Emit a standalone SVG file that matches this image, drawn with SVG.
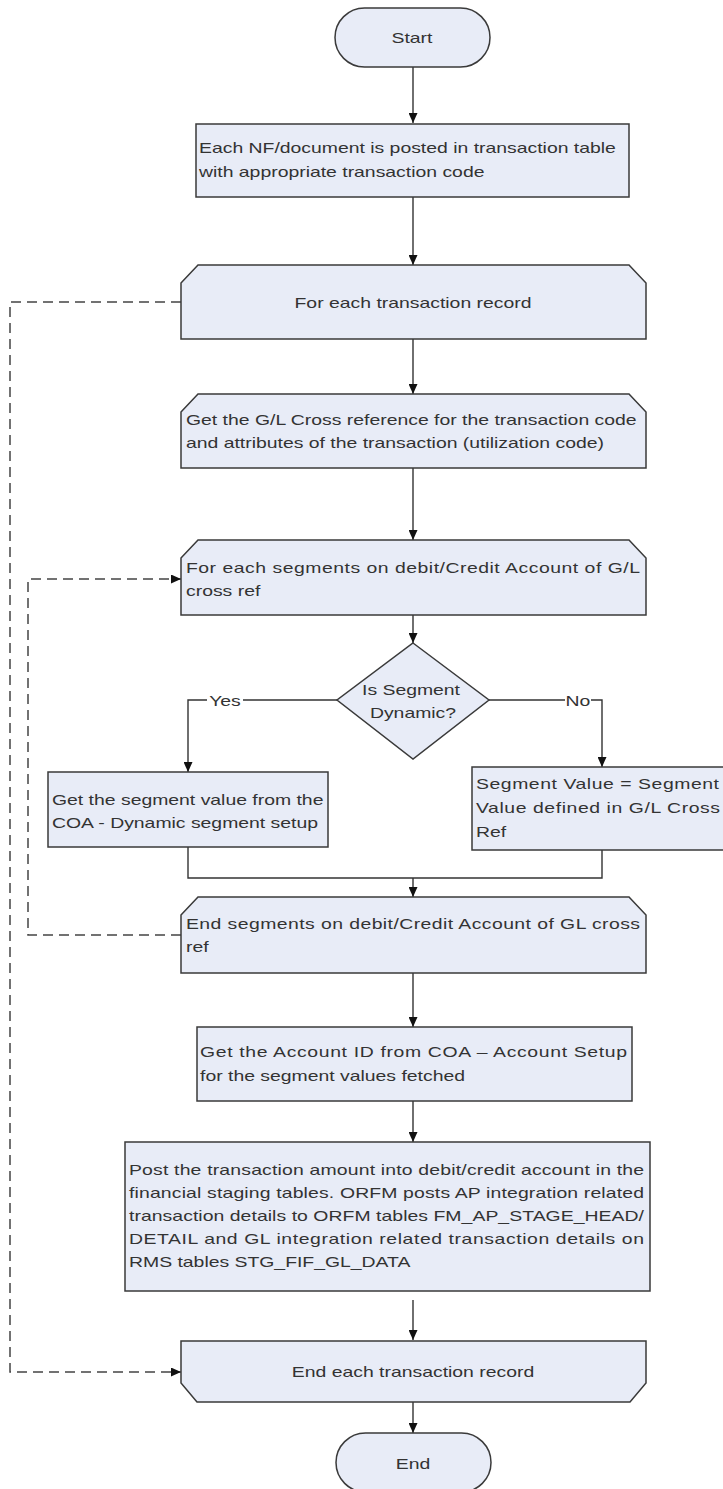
<svg xmlns="http://www.w3.org/2000/svg" width="723" height="1489" viewBox="0 0 723 1489">
<style>
.shape{fill:#e8ecf7;stroke:#3a3a3a;stroke-width:1.5}
.t{font-family:"Liberation Sans",Arial,sans-serif;font-size:19.4px;fill:#333}
.c{text-anchor:middle}
.ln{fill:none;stroke:#333;stroke-width:1.4}
.dash{fill:none;stroke:#444;stroke-width:1.5;stroke-dasharray:10 6}
.lbl{fill:#fff}
</style>
<defs>
<marker id="ah" markerUnits="userSpaceOnUse" markerWidth="10" markerHeight="9" refX="10" refY="4.5" orient="auto">
<path d="M0,0 L10,4.5 L0,9 Z" fill="#111"/>
</marker>
</defs>
<rect width="723" height="1489" fill="#fff"/>

<g id="connectors">
<line class="ln" x1="413" y1="67" x2="413" y2="123" marker-end="url(#ah)"/>
<line class="ln" x1="413" y1="197" x2="413" y2="265" marker-end="url(#ah)"/>
<line class="ln" x1="413" y1="339" x2="413" y2="394" marker-end="url(#ah)"/>
<line class="ln" x1="413" y1="468" x2="413" y2="540" marker-end="url(#ah)"/>
<line class="ln" x1="413" y1="615" x2="413" y2="643" marker-end="url(#ah)"/>
<polyline class="ln" points="337,700 188,700 188,772" marker-end="url(#ah)"/>
<polyline class="ln" points="489,700 602,700 602,767" marker-end="url(#ah)"/>
<polyline class="ln" points="188,847 188,878 602,878 602,850"/>
<line class="ln" x1="413" y1="878" x2="413" y2="897" marker-end="url(#ah)"/>
<line class="ln" x1="413" y1="973" x2="413" y2="1027" marker-end="url(#ah)"/>
<line class="ln" x1="413" y1="1101" x2="413" y2="1142" marker-end="url(#ah)"/>
<line class="ln" x1="413" y1="1300" x2="413" y2="1340" marker-end="url(#ah)"/>
<line class="ln" x1="413" y1="1402" x2="413" y2="1433" marker-end="url(#ah)"/>
<polyline class="dash" points="181,302 10,302 10,1372 181,1372" marker-end="url(#ah)"/>
<polyline class="dash" points="181,935 28,935 28,579 181,579" marker-end="url(#ah)"/>
<rect class="lbl" x="207" y="690" width="36" height="20"/>
<text class="t c" transform="translate(225 706) scale(1 0.8)">Yes</text>
<rect class="lbl" x="565" y="690" width="26" height="20"/>
<text class="t c" transform="translate(578 706) scale(1 0.8)">No</text>
</g>

<g id="start">
<rect class="shape" x="335" y="8" width="155" height="59" rx="29.5"/>
<text class="t c" transform="translate(412 43) scale(1 0.8)">Start</text>
</g>

<g id="post-nf">
<rect class="shape" x="196" y="124" width="433" height="73"/>
<text class="t" transform="translate(199 153) scale(1 0.8)">Each NF/document is posted in transaction table</text>
<text class="t" transform="translate(199 177) scale(1 0.8)">with appropriate transaction code</text>
</g>

<g id="loop-transaction">
<path class="shape" d="M181,283 L198,265 L629,265 L646,283 L646,339 L181,339 Z"/>
<text class="t c" transform="translate(413 308) scale(1 0.8)">For each transaction record</text>
</g>

<g id="get-gl-xref">
<path class="shape" d="M181,412 L198,394 L629,394 L646,412 L646,468 L181,468 Z"/>
<text class="t" transform="translate(186 425) scale(1 0.8)">Get the G/L Cross reference for the transaction code</text>
<text class="t" transform="translate(186 448) scale(1 0.8)">and attributes of the transaction (utilization code)</text>
</g>

<g id="loop-segments">
<path class="shape" d="M181,558 L198,540 L629,540 L646,558 L646,615 L181,615 Z"/>
<text class="t" transform="translate(186 573) scale(1 0.8)" textLength="454" lengthAdjust="spacing">For each segments on debit/Credit Account of G/L</text>
<text class="t" transform="translate(186 596) scale(1 0.8)">cross ref</text>
</g>

<g id="decision">
<path class="shape" d="M413,643 L489,700 L413,759 L337,700 Z"/>
<text class="t c" transform="translate(411 695) scale(1 0.8)">Is Segment</text>
<text class="t c" transform="translate(413 718) scale(1 0.8)">Dynamic?</text>
</g>

<g id="dynamic-segment">
<rect class="shape" x="48" y="772" width="280" height="75"/>
<text class="t" transform="translate(52 805) scale(1 0.8)">Get the segment value from the</text>
<text class="t" transform="translate(52 828) scale(1 0.8)">COA - Dynamic segment setup</text>
</g>

<g id="static-segment">
<rect class="shape" x="472" y="767" width="255" height="83"/>
<text class="t" transform="translate(476 789) scale(1 0.8)" textLength="243" lengthAdjust="spacing">Segment Value = Segment</text>
<text class="t" transform="translate(476 813) scale(1 0.8)" textLength="244" lengthAdjust="spacing">Value defined in G/L Cross</text>
<text class="t" transform="translate(476 837) scale(1 0.8)">Ref</text>
</g>

<g id="end-segments">
<path class="shape" d="M181,915 L198,897 L629,897 L646,915 L646,973 L181,973 Z"/>
<text class="t" transform="translate(186 929) scale(1 0.8)" textLength="454" lengthAdjust="spacing">End segments on debit/Credit Account of GL cross</text>
<text class="t" transform="translate(186 952) scale(1 0.8)">ref</text>
</g>

<g id="get-account">
<rect class="shape" x="197" y="1027" width="435" height="74"/>
<text class="t" transform="translate(200 1057) scale(1 0.8)" textLength="427" lengthAdjust="spacing">Get the Account ID from COA – Account Setup</text>
<text class="t" transform="translate(200 1081) scale(1 0.8)">for the segment values fetched</text>
</g>

<g id="post-amount">
<rect class="shape" x="125" y="1142" width="525" height="149"/>
<text class="t" transform="translate(129 1175) scale(1 0.8)" textLength="515" lengthAdjust="spacing">Post the transaction amount into debit/credit account in the</text>
<text class="t" transform="translate(129 1198) scale(1 0.8)" textLength="515" lengthAdjust="spacing">financial staging tables. ORFM posts AP integration related</text>
<text class="t" transform="translate(129 1221) scale(1 0.8)" textLength="515" lengthAdjust="spacing">transaction details to ORFM tables FM_AP_STAGE_HEAD/</text>
<text class="t" transform="translate(129 1244) scale(1 0.8)" textLength="515" lengthAdjust="spacing">DETAIL and GL integration related transaction details on</text>
<text class="t" transform="translate(129 1267) scale(1 0.8)">RMS tables STG_FIF_GL_DATA</text>
</g>

<g id="end-loop-transaction">
<path class="shape" d="M181,1341 L646,1341 L646,1383 L630,1402 L197,1402 L181,1383 Z"/>
<text class="t c" transform="translate(413 1377) scale(1 0.8)">End each transaction record</text>
</g>

<g id="end">
<rect class="shape" x="336" y="1433" width="155" height="59" rx="29.5"/>
<text class="t c" transform="translate(413 1469) scale(1 0.8)">End</text>
</g>
</svg>
